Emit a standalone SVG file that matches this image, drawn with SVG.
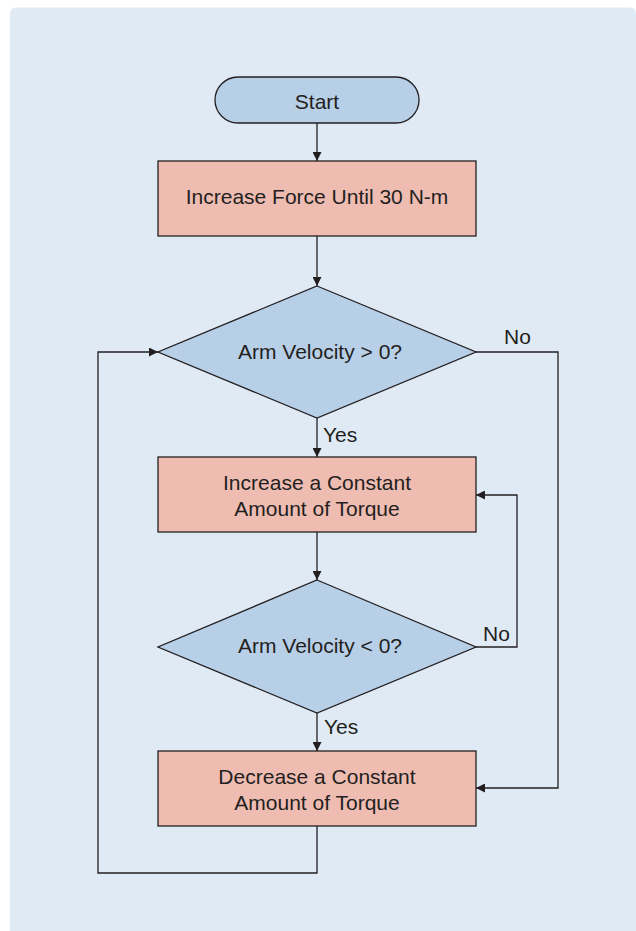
<svg xmlns="http://www.w3.org/2000/svg" width="636" height="931" viewBox="0 0 636 931">
  <defs>
    <style>
      .panel { fill: #e0eaf5; }
      .proc { fill: #efbcb2; stroke: #231f20; stroke-width: 1.3; }
      .dec { fill: #b8cfe8; stroke: #231f20; stroke-width: 1.3; }
      .wire { fill: none; stroke: #231f20; stroke-width: 1.3; }
      text { font-family: "Liberation Sans", Arial, Helvetica, sans-serif; font-size: 21px; fill: #231f20; }
      .c { text-anchor: middle; }
    </style>
    <marker id="arrow" viewBox="0 0 10 10" refX="10" refY="5" markerWidth="9" markerHeight="9" markerUnits="userSpaceOnUse" orient="auto">
      <path d="M0,0 L10,5 L0,10 Z" fill="#231f20"/>
    </marker>
  </defs>

  <!-- background panel -->
  <path class="panel" d="M10,14 Q10,7.5 16.5,7.5 L630,7.5 Q636,7.5 636,14 L636,931 L10,931 Z"/>

  <!-- connectors -->
  <g id="connectors">
    <line class="wire" x1="317" y1="123" x2="317" y2="161" marker-end="url(#arrow)"/>
    <line class="wire" x1="317" y1="236" x2="317" y2="286" marker-end="url(#arrow)"/>
    <line class="wire" x1="317" y1="418" x2="317" y2="457" marker-end="url(#arrow)"/>
    <line class="wire" x1="317" y1="532" x2="317" y2="580" marker-end="url(#arrow)"/>
    <line class="wire" x1="317" y1="713" x2="317" y2="751" marker-end="url(#arrow)"/>
    <polyline class="wire" points="476,352 558,352 558,788 476,788" marker-end="url(#arrow)"/>
    <polyline class="wire" points="476,647 517,647 517,495 476,495" marker-end="url(#arrow)"/>
    <polyline class="wire" points="317,826 317,873 98,873 98,352 158,352" marker-end="url(#arrow)"/>
    <text x="504" y="344">No</text>
    <text x="323" y="442">Yes</text>
    <text x="483" y="641">No</text>
    <text x="324" y="734">Yes</text>
  </g>

  <g id="start">
    <rect class="dec" x="215" y="77" width="204" height="46" rx="23" ry="23"/>
    <text class="c" x="317" y="109">Start</text>
  </g>

  <g id="increase-force">
    <rect class="proc" x="158" y="161" width="318" height="75"/>
    <text class="c" x="317" y="204">Increase Force Until 30 N-m</text>
  </g>

  <g id="check-positive">
    <polygon class="dec" points="317,286 476,352 317,418 158,352"/>
    <text class="c" x="320" y="359">Arm Velocity &gt; 0?</text>
  </g>

  <g id="increase-torque">
    <rect class="proc" x="158" y="457" width="318" height="75"/>
    <text class="c" x="317" y="490">Increase a Constant</text>
    <text class="c" x="317" y="516">Amount of Torque</text>
  </g>

  <g id="check-negative">
    <polygon class="dec" points="317,580 476,647 317,713 158,647"/>
    <text class="c" x="320" y="653">Arm Velocity &lt; 0?</text>
  </g>

  <g id="decrease-torque">
    <rect class="proc" x="158" y="751" width="318" height="75"/>
    <text class="c" x="317" y="784">Decrease a Constant</text>
    <text class="c" x="317" y="810">Amount of Torque</text>
  </g>
</svg>
